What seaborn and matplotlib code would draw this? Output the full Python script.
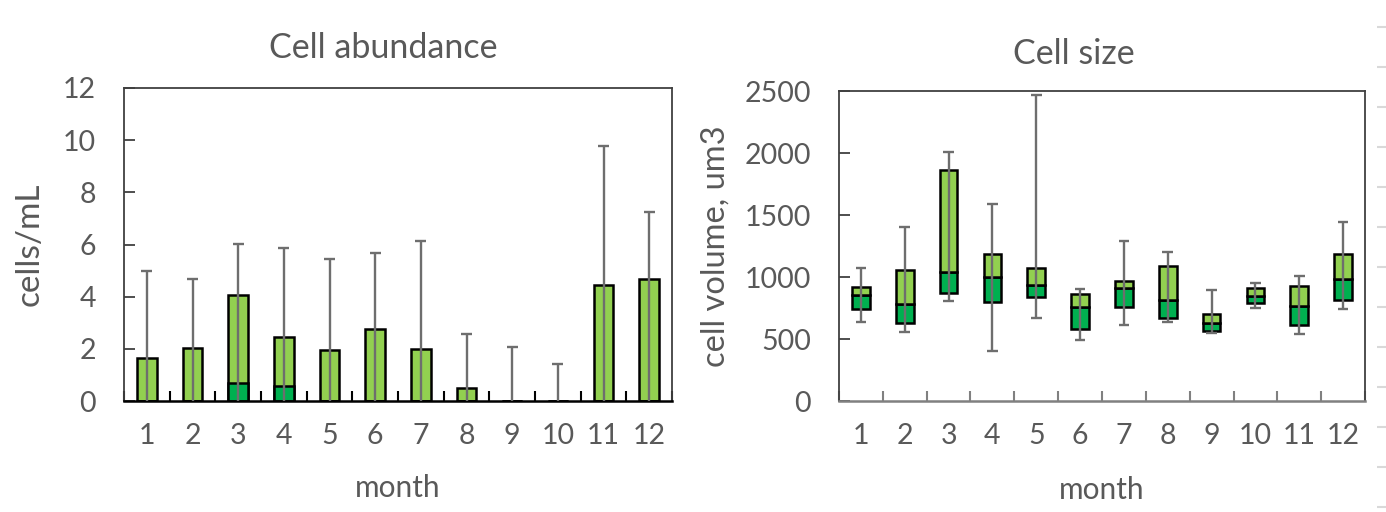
import numpy as np
import matplotlib
matplotlib.use("Agg")
import matplotlib.pyplot as plt
import seaborn as sns

# data
months = [str(m) for m in range(1, 13)]

# Cell abundance (cells/mL): box goes 0 -> q3, dark part 0 -> median
ab_median = [0, 0, 0.69, 0.56, 0, 0, 0, 0, 0, 0, 0, 0]
ab_q3 = [1.66, 2.04, 4.05, 2.44, 1.97, 2.75, 2.01, 0.49, 0, 0, 4.44, 4.67]
ab_max = [4.97, 4.69, 6.02, 5.88, 5.45, 5.69, 6.13, 2.55, 2.07, 1.40, 9.79, 7.24]

# Cell size (um3)
sz_min = [640, 557, 806, 401, 672, 495, 616, 640, 546, 750, 543, 740]
sz_q1 = [745, 629, 874, 796, 842, 581, 758, 667, 562, 790, 610, 812]
sz_median = [852, 785, 1043, 1000, 933, 761, 909, 818, 627, 850, 766, 987]
sz_q3 = [922, 1054, 1860, 1183, 1076, 860, 965, 1089, 702, 911, 931, 1183]
sz_max = [1070, 1401, 2008, 1592, 2468, 903, 1288, 1202, 898, 949, 1006, 1447]

LIGHT = "#92D050"
DARK = "#00B050"
WHISK = "#6E6E6E"
TXT = "#595959"

sns.set_theme(style="white")
plt.rcParams['font.family'] = ['Lato', 'DejaVu Sans']

fig = plt.figure(figsize=(13.86, 5.12), dpi=100)
ax1 = fig.add_axes([124 / 1386, 1 - 401 / 512, 548 / 1386, 313 / 512])
ax2 = fig.add_axes([839 / 1386, 1 - 401 / 512, 526 / 1386, 310 / 512])

x = np.arange(len(months))

# --- left: cell abundance ---
sns.barplot(x=months, y=ab_q3, color=LIGHT, edgecolor="black", linewidth=1.8,
            width=0.43, saturation=1, ax=ax1, zorder=2)
sns.barplot(x=months, y=ab_median, color=DARK, edgecolor="black", linewidth=1.8,
            width=0.43, saturation=1, ax=ax1, zorder=2)
ax1.vlines(x, 0, ab_max, color=WHISK, lw=1.7, zorder=3)
ax1.hlines(ab_max, x - 0.12, x + 0.12, color=WHISK, lw=1.7, zorder=3)
ax1.set_ylim(0, 12)
ax1.set_yticks(range(0, 13, 2))

# --- right: cell size ---
lo = np.array(sz_q1)
md = np.array(sz_median)
hi = np.array(sz_q3)
ax2.bar(x, md - lo, bottom=lo, width=0.40, color=DARK, edgecolor="black", lw=1.8, zorder=2)
ax2.bar(x, hi - md, bottom=md, width=0.40, color=LIGHT, edgecolor="black", lw=1.8, zorder=2)
ax2.vlines(x, sz_min, sz_max, color=WHISK, lw=1.7, zorder=3)
ax2.hlines(sz_max, x - 0.12, x + 0.12, color=WHISK, lw=1.7, zorder=3)
ax2.hlines(sz_min, x - 0.12, x + 0.12, color=WHISK, lw=1.7, zorder=3)
ax2.set_ylim(0, 2500)
ax2.set_yticks(range(0, 2501, 500))

for ax, tickcol, botcol in [(ax1, "black", "black"), (ax2, "#808080", "#808080")]:
    ax.set_xlim(-0.5, 11.5)
    ax.set_xticks(x)
    ax.set_xticklabels(months)
    ax.set_xticks(np.arange(-0.5, 12, 1), minor=True)
    ax.tick_params(axis="x", which="major", length=0, pad=16, labelsize=20.5, labelcolor=TXT)
    ax.tick_params(axis="x", which="minor", direction="in", length=7, width=1.5,
                   color=tickcol, bottom=True)
    ax.tick_params(axis="y", direction="in", length=8, width=1.3, color="#404040",
                   pad=20, labelsize=20.5, labelcolor=TXT, left=True)
    for s in ["left", "top", "right"]:
        ax.spines[s].set_color("#404040")
        ax.spines[s].set_linewidth(1.3)
    ax.spines["bottom"].set_color(botcol)
    ax.spines["bottom"].set_linewidth(1.8)
    ax.set_xlabel("month", fontsize=21.5, color=TXT, va="center")
    ax.grid(False)

ax1.xaxis.set_label_coords(0.5, -0.278)
ax2.xaxis.set_label_coords(0.5, -0.287)
ax1.set_ylabel("cells/mL", fontsize=24, color=TXT, va="center")
ax2.set_ylabel("cell volume, um3", fontsize=23.5, color=TXT, va="center")
ax1.yaxis.set_label_coords(-0.1715, 0.5)
ax2.yaxis.set_label_coords(-0.234, 0.5)

fig.text(383 / 1386, 1 - 48 / 512, "Cell abundance", fontsize=24.5, color=TXT,
         ha="center", va="center")
fig.text(1074 / 1386, 1 - 54 / 512, "Cell size", fontsize=24.5, color=TXT,
         ha="center", va="center")

# faint marks on the right edge (cut-off neighbour chart)
ax3 = fig.add_axes([1377 / 1386, 0, 9 / 1386, 1])
ax3.set_xlim(0, 1)
ax3.set_ylim(512, 0)
ax3.hlines(np.arange(27, 512, 40), 0, 1, color="#d9d9d9", lw=1.5)
ax3.axis("off")

fig.savefig("out.png", dpi=100)
